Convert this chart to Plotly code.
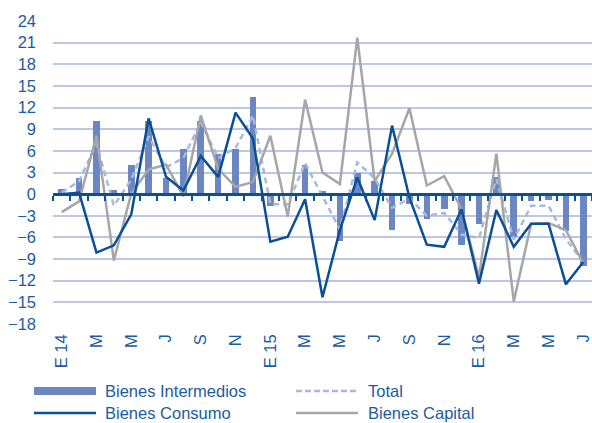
import plotly.graph_objects as go

months = list(range(31))
tick_pos = list(range(0, 31, 2))
tick_text = ["E 14", "M", "M", "J", "S", "N", "E 15", "M", "M", "J", "S", "N", "E 16", "M", "M", "J"]

intermedios = [0.7, 2.3, 10.2, 0.6, 4.1, 10.2, 2.3, 6.3, 10.2, 5.5, 6.3, 13.5, -1.6, -0.3, 4.0, 0.4,
               -6.5, 3.0, 1.8, -5.0, -1.3, -3.5, -2.1, -7.0, -4.1, 2.4, -6.0, -1.0, -0.8, -5.1, -10.0]
total = [0.2, 1.8, 7.0, -1.6, 2.0, 8.0, 3.7, 5.0, 10.0, 5.0, 6.4, 10.9, -1.4, -1.4, 4.3, -0.3,
         -4.9, 4.4, 2.2, -1.9, -0.6, -3.0, -2.6, -5.6, -6.1, 2.1, -6.3, -1.6, -1.6, -6.2, -9.5]
consumo = [0.0, 0.2, -8.1, -7.1, -2.8, 10.5, 2.4, 0.5, 5.3, 2.4, 11.3, 7.7, -6.6, -5.9, -0.7, -14.3,
           -5.0, 2.3, -3.6, 9.5, -0.5, -7.0, -7.3, -2.1, -12.4, -2.2, -7.3, -4.1, -4.1, -12.5, -9.4]
capital = [-2.5, -1.0, 8.1, -9.2, 0.1, 3.4, 4.1, -0.3, 10.9, 3.5, 1.0, 1.7, 8.1, -3.1, 13.1, 3.0,
           1.4, 21.7, 1.8, 5.6, 11.9, 1.2, 2.5, -2.1, -11.5, 5.6, -14.9, -4.1, -4.0, -5.0, -9.6]

names = ["Bienes Intermedios", "Total", "Bienes Consumo", "Bienes Capital"]

C_BAR = "#6b86c0"
C_TOTAL = "#aab8e0"
C_CONS = "#0b4f96"
C_CAP = "#a6a6a6"
C_TEXT = "#1c5ba2"
C_GRID = "#bcc6e6"
FONT = "Liberation Sans, Arial, sans-serif"

fig = go.Figure()
fig.add_trace(go.Bar(x=months, y=intermedios, name=names[0], marker_color=C_BAR,
                     marker_line_width=0, width=0.38, showlegend=False))
fig.add_trace(go.Scatter(x=months, y=total, name=names[1], mode="lines",
                         line=dict(color=C_TOTAL, width=2.5, dash="6px,4px"), showlegend=False))
fig.add_trace(go.Scatter(x=months, y=capital, name=names[3], mode="lines",
                         line=dict(color=C_CAP, width=2.5), showlegend=False))
fig.add_trace(go.Scatter(x=months, y=consumo, name=names[2], mode="lines",
                         line=dict(color=C_CONS, width=2.5), showlegend=False))

# invisible trace to activate the zero-line axis with boundary ticks
fig.add_trace(go.Scatter(x=[months[0]], y=[0], xaxis="x2", mode="markers",
                         marker=dict(opacity=0), showlegend=False, hoverinfo="skip"))

W, H = 592, 423
L, R, T, B = 53, 0, 21, 99
fig.update_layout(
    width=W, height=H,
    margin=dict(l=L, r=R, t=T, b=B, autoexpand=False),
    paper_bgcolor="white", plot_bgcolor="white",
    font=dict(family=FONT, size=16, color=C_TEXT),
    bargap=0,
    xaxis=dict(range=[-0.5, 30.5], tickmode="array", tickvals=tick_pos, ticktext=tick_text,
               tickangle=-90, showgrid=False, zeroline=False, showline=False, ticks="",
               tickfont=dict(size=16.5, color=C_TEXT), ticklabelstandoff=6, automargin=False),
    xaxis2=dict(range=[-0.5, 30.5], overlaying="x", anchor="free",
                position=18 / 42, showline=True, linecolor=C_CONS, linewidth=3,
                ticks="outside", ticklen=5, tickwidth=2, tickcolor=C_CONS,
                tickmode="array", tickvals=[v - 0.5 for v in range(32)],
                showticklabels=False, showgrid=False, zeroline=False, automargin=False),
    yaxis=dict(range=[-18, 24], tickmode="array", tickvals=list(range(-18, 25, 3)),
               showgrid=True, gridcolor=C_GRID, gridwidth=1.5, zeroline=False,
               ticks="", tickfont=dict(size=16.5, color=C_TEXT), ticklabelstandoff=16,
               showline=False, automargin=False),
)

# manual legend (2 x 2 grid)
pw = W - L - R
ph = H - T - B
def px_x(p):
    return (p - L) / pw
def px_y(p):
    return (H - B - p) / ph

rows = [391, 413]
cols = [(34, 96, 103), (296, 358, 366)]
items = [(names[0], "bar", C_BAR, 0, 0), (names[1], "dash", C_TOTAL, 0, 1),
         (names[2], "line", C_CONS, 1, 0), (names[3], "line", C_CAP, 1, 1)]
for label, kind, color, r, c in items:
    x0, x1, xt = cols[c]
    yc = rows[r]
    if kind == "bar":
        fig.add_shape(type="rect", xref="paper", yref="paper",
                      x0=px_x(x0), x1=px_x(x1), y0=px_y(yc + 4), y1=px_y(yc - 4),
                      fillcolor=color, line_width=0)
    else:
        fig.add_shape(type="line", xref="paper", yref="paper",
                      x0=px_x(x0), x1=px_x(x1), y0=px_y(yc), y1=px_y(yc),
                      line=dict(color=color, width=2.5,
                                dash="6px,3px" if kind == "dash" else "solid"))
    fig.add_annotation(text=label, xref="paper", yref="paper", x=px_x(xt), y=px_y(yc),
                       xanchor="left", yanchor="middle", showarrow=False,
                       font=dict(family=FONT, size=16.5, color=C_TEXT))

fig.write_html("out.html", config={"displayModeBar": False},
               post_script="document.body.style.margin='0';document.body.style.overflow='hidden';")
